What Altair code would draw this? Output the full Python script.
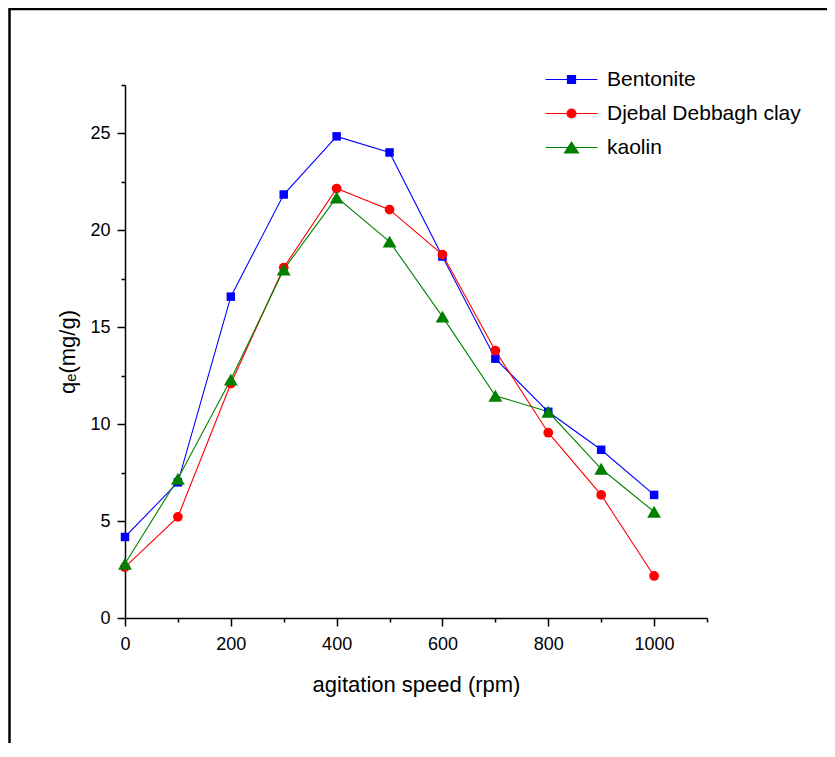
import altair as alt
import pandas as pd

speed = [0, 100, 200, 300, 400, 500, 600, 700, 800, 900, 1000]
bentonite = [4.18, 7.0, 16.58, 21.85, 24.85, 24.02, 18.65, 13.38, 10.64, 8.68, 6.35]
djebal = [2.63, 5.22, 12.09, 18.08, 22.16, 21.07, 18.75, 13.79, 9.56, 6.35, 2.17]
kaolin = [2.8, 7.18, 12.3, 17.98, 21.7, 19.42, 15.55, 11.47, 10.64, 7.7, 5.48]

series_names = ["Bentonite", "Djebal Debbagh clay", "kaolin"]
series_colors = ["#0000FF", "#FF0000", "#008000"]
marker_shapes = ["square", "circle", "triangle-up"]
marker_sizes = [72, 95, 190]
legend_paths = [
    "M-5.2,0H5.2M-0.8,-0.8H0.8V0.8H-0.8Z",
    "M-5.2,0H5.2M-0.9,0A0.9,0.9,0,1,0,0.9,0A0.9,0.9,0,1,0,-0.9,0Z",
    "M-5.2,0H5.2M0,-1.1L1.4,1.1L-1.4,1.1Z",
]
x_ticks = list(range(0, 1101, 100))
y_ticks = [i * 2.5 for i in range(12)]

FONT = "Liberation Sans, Arial, sans-serif"

rows = []
for name, vals in zip(series_names, [bentonite, djebal, kaolin]):
    for s, v in zip(speed, vals):
        rows.append({"speed": s, "qe": v, "series": name})
df = pd.DataFrame(rows)

color_scale = alt.Scale(domain=series_names, range=series_colors)

x_enc = alt.X(
    "speed:Q",
    scale=alt.Scale(domain=[0, 1100], nice=False),
    axis=alt.Axis(
        values=x_ticks,
        format="d",
        labelExpr="datum.value % 200 === 0 ? datum.label : ''",
        tickSize={"condition": {"test": "datum.value % 200 === 0", "value": 8}, "value": 4},
        grid=False,
        labelFlush=False,
        domainColor="black",
        domainWidth=1.5,
        tickColor="black",
        tickWidth=1.5,
        labelFont=FONT,
        labelFontSize=18,
        labelColor="black",
        labelPadding=9,
        title="agitation speed (rpm)",
        titleFont=FONT,
        titleFontSize=22,
        titleFontWeight="normal",
        titleColor="black",
        titlePadding=21,
    ),
)
y_enc = alt.Y(
    "qe:Q",
    scale=alt.Scale(domain=[0, 27.5], nice=False),
    axis=alt.Axis(
        values=y_ticks,
        format="d",
        labelExpr="datum.value % 5 === 0 ? datum.label : ''",
        tickSize={"condition": {"test": "datum.value % 5 === 0", "value": 8}, "value": 4},
        grid=False,
        labelFlush=False,
        domainColor="black",
        domainWidth=1.5,
        tickColor="black",
        tickWidth=1.5,
        labelFont=FONT,
        labelFontSize=18,
        labelColor="black",
        labelPadding=7,
        title="qₑ(mg/g)",
        titleFont=FONT,
        titleFontSize=22,
        titleFontWeight="normal",
        titleColor="black",
        titlePadding=10,
    ),
)

base = alt.Chart(df)

lines = base.mark_line(strokeWidth=1.1).encode(
    x=x_enc,
    y=y_enc,
    stroke=alt.Stroke("series:N", scale=color_scale, legend=None),
    detail="series:N",
)

point_layers = []
for name, col, shp, sz in zip(series_names, series_colors, marker_shapes, marker_sizes):
    point_layers.append(
        base.transform_filter(alt.datum.series == name)
        .mark_point(filled=True, opacity=1, shape=shp, size=sz, color=col)
        .encode(x="speed:Q", y="qe:Q")
    )


def make_legend():
    return alt.Legend(
        orient="none", legendX=436, legendY=-16, title=None, padding=0,
        labelFont=FONT, labelFontSize=21, labelColor="black", labelLimit=0,
        symbolSize=100, symbolStrokeWidth=1.2, symbolOpacity=1,
        symbolOffset=0, labelOffset=25, rowPadding=12,
    )


legend_layer = base.transform_filter("false").mark_point(filled=True).encode(
    x="speed:Q",
    y="qe:Q",
    fill=alt.Fill("series:N", scale=alt.Scale(domain=series_names, range=series_colors), legend=make_legend()),
    stroke=alt.Stroke("series:N", scale=alt.Scale(domain=series_names, range=series_colors), legend=make_legend()),
    shape=alt.Shape("series:N", scale=alt.Scale(domain=series_names, range=legend_paths), legend=make_legend()),
)

frame = alt.Chart(pd.DataFrame({"k": [0]})).mark_rect(
    filled=False, stroke="black", strokeWidth=2.5
).encode(
    x=alt.value(-115.5), x2=alt.value(2000), y=alt.value(-76), y2=alt.value(2000)
)

chart = alt.layer(frame, lines, *point_layers, legend_layer).resolve_scale(
    fill="independent", stroke="independent", shape="independent"
).properties(
    width=582,
    height=533,
    autosize=alt.AutoSizeParams(type="none"),
    padding={"left": 117, "top": 77, "right": 120, "bottom": 125},
    background="white",
).configure_view(stroke=None)

chart.save("out.html", embed_options={"renderer": "svg", "actions": False})
